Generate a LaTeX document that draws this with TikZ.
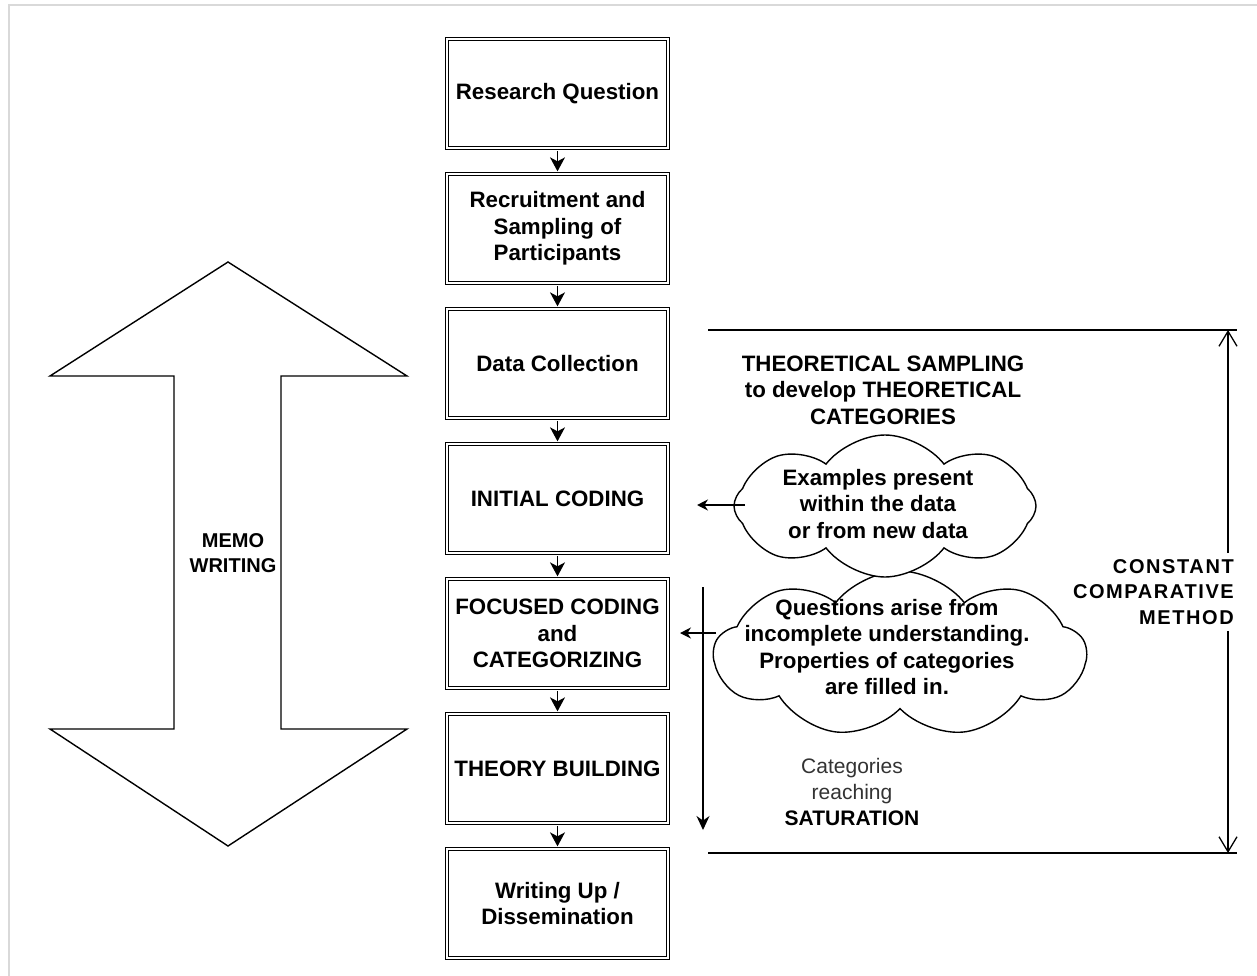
\documentclass[tikz,border=0pt]{standalone}
\usepackage{fontspec}
\setmainfont{Liberation Sans}
\newfontfamily\spacedsans[LetterSpace=8]{Liberation Sans}
\usetikzlibrary{arrows.meta,shapes.symbols}
\tikzset{
  stepbox/.style={draw=black, double=white, double distance=2.2pt, line width=1.3pt,
    minimum width=221pt, minimum height=109pt, inner sep=0pt, align=center,
    font=\fontsize{22.3}{26.5}\selectfont\bfseries},
  flow/.style={line width=1.3pt, -{Stealth[length=14pt,width=15pt,inset=4pt]}, shorten <=2.4pt, shorten >=2pt},
  cloudshape/.style={cloud, draw=black, fill=white, line width=1.4pt,
    cloud ignores aspect, inner sep=0pt},
  bigtxt/.style={align=center, inner sep=0pt, font=\fontsize{22.3}{26.5}\selectfont\bfseries},
  thin/.style={line width=1.3pt},
  barb/.style={line width=1.3pt, -{Straight Barb[length=15pt,width=18pt,line width=1.3pt]}},
}
\begin{document}
\begin{tikzpicture}[x=1pt,y=-1pt]
\useasboundingbox (0,0) rectangle (1257,976);
\fill[white] (0,0) rectangle (1257,976);
% faint frame
\draw[line width=2pt, black!15] (9,976) -- (9,5) -- (1257,5);

% memo writing double arrow
\draw[line width=1.4pt, line join=miter]
  (228,262) -- (407,376) -- (281,376) -- (281,729) -- (407,729) -- (228,846)
  -- (50,729) -- (174,729) -- (174,376) -- (50,376) -- cycle;
\node[align=center, inner sep=0pt, font=\fontsize{20}{24.5}\selectfont\bfseries] (memo) at (233,553) {MEMO\\WRITING};

% main boxes
\node[stepbox] (b1) at (557.5,93.5) {Research Question};
\node[stepbox] (b2) at (557.5,228.5) {Recruitment and\\Sampling of\\Participants};
\node[stepbox] (b3) at (557.5,363.5) {Data Collection};
\node[stepbox] (b4) at (557.5,498.5) {INITIAL CODING};
\node[stepbox] (b5) at (557.5,633.5) {FOCUSED CODING\\and\\CATEGORIZING};
\node[stepbox] (b6) at (557.5,768.5) {THEORY BUILDING};
\node[stepbox] (b7) at (557.5,903.5) {Writing Up /\\Dissemination};
\foreach \a/\b in {b1/b2,b2/b3,b3/b4,b4/b5,b5/b6,b6/b7}
  \draw[flow] (\a) -- (\b);

% theoretical sampling
\node[bigtxt] (ts) at (883,390) {THEORETICAL SAMPLING\\to develop THEORETICAL\\CATEGORIES};

% clouds
\node[cloudshape, cloud puffs=9, cloud puff arc=105, minimum width=372pt, minimum height=166pt] (c2) at (900,654) {};
\node[cloudshape, cloud puffs=8, cloud puff arc=105, minimum width=302pt, minimum height=142pt] (c1) at (885,506) {};
\node[bigtxt] (t1) at (878,504) {Examples present\\within the data\\or from new data};
\node[bigtxt] (t2) at (887,647) {Questions arise from\\incomplete understanding.\\Properties of categories\\are filled in.};

% arrows from clouds
\coordinate (q1) at (745,505);
\coordinate (e1) at (697,505);
\coordinate (q2) at (716,633);
\coordinate (e2) at (680,633);
\draw[line width=1.3pt, -{Stealth[length=11pt,width=11pt]}] (q1) -- (e1);
\draw[line width=1.3pt, -{Stealth[length=11pt,width=11pt]}] (q2) -- (e2);

% saturation arrow
\coordinate (s1) at (703,587);
\coordinate (s2) at (703,830);
\draw[line width=1.3pt, -{Stealth[length=14pt,width=13pt]}] (s1) -- (s2);
\node[align=center, inner sep=0pt, font=\fontsize{21}{26}\selectfont] (sat) at (852,792)
  {\color{black!80}Categories\\\color{black!80}reaching\\\textbf{SATURATION}};

% constant comparative method
\coordinate (tl) at (708,330);
\coordinate (tr) at (1237,330);
\coordinate (bl) at (708,853);
\coordinate (br) at (1237,853);
\coordinate (ct) at (1228,330);
\coordinate (cb) at (1228,853);
\draw[thin] (tl) -- (tr);
\draw[thin] (bl) -- (br);
\node[anchor=east, align=right, inner sep=0pt, font=\fontsize{20}{25.5}\spacedsans\bfseries] (cm) at (1234,592)
  {CONSTANT\\COMPARATIVE\\METHOD};
\draw[barb] ([yshift=6pt]cm.north -| ct) -- (ct);
\draw[barb] ([yshift=-6pt]cm.south -| cb) -- (cb);
\end{tikzpicture}
\end{document}
